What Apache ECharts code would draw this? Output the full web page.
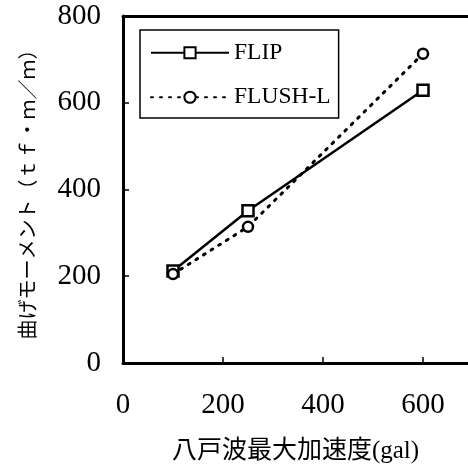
<!DOCTYPE html>
<html>
<head>
<meta charset="utf-8">
<script src="https://cdn.jsdelivr.net/npm/echarts@6/dist/echarts.min.js"></script>
<style>html,body{margin:0;padding:0;background:#fff}#c{width:468px;height:469px}</style>
</head>
<body>
<div id="c"></div>
<script>
var accel = [100, 250, 600];
var flip = [212, 351, 629];
var flushL = [205, 314, 713];
var xTicks = [0, 200, 400, 600];
var yTicks = [0, 200, 400, 600, 800];

var chart = echarts.init(document.getElementById('c'));
var serif = '"Liberation Serif", "Noto Sans CJK JP", serif';
function pairs(xs, ys) { return xs.map(function (x, i) { return [x, ys[i]]; }); }
chart.setOption({
  backgroundColor: '#fff',
  animation: false,
  grid: { left: 123, top: 16, right: 0, bottom: 104, show: false },
  legend: {
    orient: 'vertical', left: 140, top: 30,
    padding: [11, 8, 9, 10], itemGap: 21, itemWidth: 78, itemHeight: 14,
    borderColor: '#000', borderWidth: 1.5, backgroundColor: '#fff',
    textStyle: { fontFamily: serif, fontSize: 23.5, color: '#000' },
    data: ['FLIP', 'FLUSH-L']
  },
  xAxis: [{
    type: 'value', min: 0, max: 690, interval: 200,
    name: '八戸波最大加速度(gal)', nameLocation: 'middle', nameGap: 76,
    nameTextStyle: { fontFamily: serif, fontSize: 25, color: '#000' },
    axisLine: { show: true, lineStyle: { color: '#000', width: 3 } },
    axisTick: { show: true, inside: true, length: 6, lineStyle: { color: '#000', width: 1.5 } },
    axisLabel: { fontFamily: serif, fontSize: 29, color: '#000', margin: 28, showMaxLabel: false,
      formatter: function (v) { return xTicks.indexOf(v) >= 0 ? String(v) : ''; } },
    splitLine: { show: false }
  }, {
    type: 'value', position: 'top', min: 0, max: 690,
    axisLine: { show: true, lineStyle: { color: '#000', width: 3 } },
    axisTick: { show: false }, axisLabel: { show: false }, splitLine: { show: false }
  }],
  yAxis: {
    type: 'value', min: 0, max: 800, interval: 200,
    name: '曲げモーメント（ｔｆ・ｍ／ｍ）', nameLocation: 'middle', nameGap: 86, nameRotate: 90,
    nameTextStyle: { fontFamily: '"Noto Sans CJK JP", sans-serif', fontSize: 20, color: '#000' },
    axisLine: { show: true, lineStyle: { color: '#000', width: 3 } },
    axisTick: { show: true, inside: true, length: 6, lineStyle: { color: '#000', width: 1.5 } },
    axisLabel: { fontFamily: serif, fontSize: 29, color: '#000', margin: 22,
      formatter: function (v) { return yTicks.indexOf(v) >= 0 ? String(v) : ''; } },
    splitLine: { show: false }
  },
  series: [
    {
      name: 'FLIP', type: 'line', data: pairs(accel, flip),
      symbol: 'rect', symbolSize: 11, showSymbol: true,
      itemStyle: { color: '#fff', borderColor: '#000', borderWidth: 2.5 },
      lineStyle: { color: '#000', width: 2.5, type: 'solid' }
    },
    {
      name: 'FLUSH-L', type: 'line', data: pairs(accel, flushL),
      symbol: 'circle', symbolSize: 10, showSymbol: true,
      itemStyle: { color: '#fff', borderColor: '#000', borderWidth: 2.5 },
      lineStyle: { color: '#000', width: 3, type: [2, 7], cap: 'round' }
    }
  ]
});
</script>
</body>
</html>
